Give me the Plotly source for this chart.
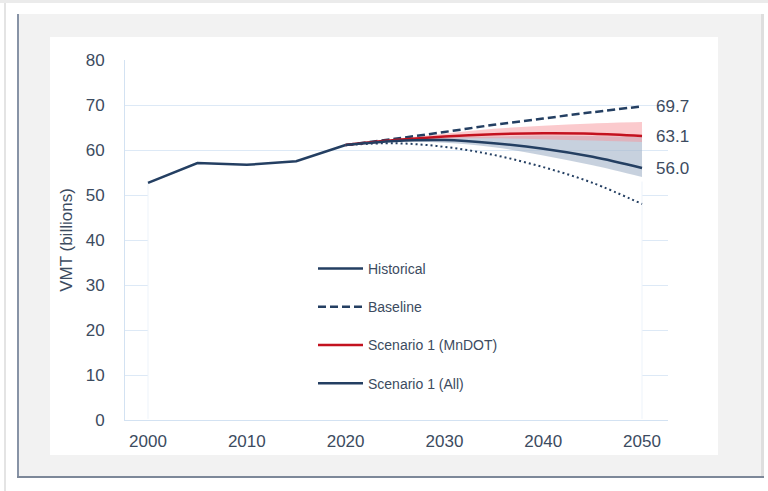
import plotly.graph_objects as go

# ---- data -------------------------------------------------------------
hist_years = [2000, 2005, 2010, 2015, 2020]
hist_vmt = [52.7, 57.1, 56.7, 57.5, 61.1]

proj_years = [2020, 2025, 2030, 2035, 2040, 2045, 2050]
baseline = [61.1, 62.5, 64.0, 65.6, 67.0, 68.4, 69.7]
low_case = [61.1, 61.5, 60.7, 58.9, 56.2, 52.7, 48.0]

mndot = [61.1, 62.2, 63.0, 63.5, 63.7, 63.6, 63.1]
mndot_hi = [61.1, 62.5, 63.6, 64.7, 65.4, 65.9, 66.2]
mndot_lo = [61.1, 62.0, 62.5, 62.6, 62.4, 62.1, 61.8]

all_s1 = [61.1, 62.0, 62.2, 61.5, 60.3, 58.5, 56.0]
all_hi = [61.1, 62.2, 62.8, 63.0, 63.2, 63.1, 62.9]
all_lo = [61.1, 61.9, 61.6, 60.6, 58.8, 56.6, 54.0]

x_ticks = [2000, 2010, 2020, 2030, 2040, 2050]
y_ticks = [0, 10, 20, 30, 40, 50, 60, 70, 80]

# ---- style ------------------------------------------------------------
NAVY = "#243f62"
RED = "#c3121f"
TEXT = "#3c4b60"
GRID = "#dde9f6"
FONT = "Liberation Sans, Arial, sans-serif"

W, H = 768, 491
L, R, T, B = 125, 100, 60, 71
PW, PH = W - L - R, H - T - B


def px(x):
    return (x - L) / PW


def py(y):
    return (H - B - y) / PH


fig = go.Figure()

# uncertainty bands
fig.add_trace(go.Scatter(x=proj_years, y=all_hi, mode="lines", line=dict(width=0, shape="spline"),
                         showlegend=False, hoverinfo="skip"))
fig.add_trace(go.Scatter(x=proj_years, y=all_lo, mode="lines", line=dict(width=0, shape="spline"),
                         fill="tonexty", fillcolor="rgba(165,180,202,0.62)", showlegend=False, hoverinfo="skip"))
fig.add_trace(go.Scatter(x=proj_years, y=mndot_hi, mode="lines", line=dict(width=0, shape="spline"),
                         showlegend=False, hoverinfo="skip"))
fig.add_trace(go.Scatter(x=proj_years, y=mndot_lo, mode="lines", line=dict(width=0, shape="spline"),
                         fill="tonexty", fillcolor="rgba(248,150,155,0.5)", showlegend=False, hoverinfo="skip"))

# low projection (dotted)
fig.add_trace(go.Scatter(x=proj_years, y=low_case, mode="lines",
                         line=dict(color=NAVY, width=2, dash="2px,3px", shape="spline"),
                         showlegend=False))

# main series
fig.add_trace(go.Scatter(x=hist_years, y=hist_vmt, mode="lines", name="Historical",
                         legendgroup="a", line=dict(color=NAVY, width=2.5)))
fig.add_trace(go.Scatter(x=proj_years, y=baseline, mode="lines", name="Baseline",
                         legendgroup="b", line=dict(color=NAVY, width=2.5, dash="8px,4px", shape="spline")))
fig.add_trace(go.Scatter(x=proj_years, y=mndot, mode="lines", name="Scenario 1 (MnDOT)",
                         legendgroup="c", line=dict(color=RED, width=2.5, shape="spline")))
fig.add_trace(go.Scatter(x=proj_years, y=all_s1, mode="lines", name="Scenario 1 (All)",
                         legendgroup="d", line=dict(color=NAVY, width=2.5, shape="spline")))

# end-of-series value labels
for series in (baseline, mndot, all_s1):
    fig.add_annotation(x=proj_years[-1], y=series[-1], text=f"{series[-1]:.1f}", showarrow=False,
                       xanchor="left", xshift=12, font=dict(family=FONT, size=17, color=TEXT))

# page frame
shapes = [
    dict(type="rect", xref="paper", yref="paper", x0=px(0), x1=px(W), y0=py(0), y1=py(3),
         fillcolor="#ebebeb", line_width=0, layer="below"),
    dict(type="rect", xref="paper", yref="paper", x0=px(17), x1=px(764), y0=py(14), y1=py(478),
         fillcolor="#f2f2f2", line_width=0, layer="below"),
    dict(type="rect", xref="paper", yref="paper", x0=px(4), x1=px(6), y0=py(3), y1=py(H),
         fillcolor="#e4e4e4", line_width=0, layer="below"),
    dict(type="rect", xref="paper", yref="paper", x0=px(761), x1=px(764), y0=py(14), y1=py(478),
         fillcolor="#dedede", line_width=0, layer="below"),
    dict(type="rect", xref="paper", yref="paper", x0=px(17), x1=px(19), y0=py(14), y1=py(478),
         fillcolor="#8793a6", line_width=0, layer="below"),
    dict(type="rect", xref="paper", yref="paper", x0=px(17), x1=px(764), y0=py(476), y1=py(478),
         fillcolor="#7d8899", line_width=0, layer="below"),
    dict(type="rect", xref="paper", yref="paper", x0=px(50), x1=px(718), y0=py(37), y1=py(455),
         fillcolor="white", line_width=0, layer="below"),
    # legend panel inside the plot
    dict(type="rect", xref="x", yref="y", x0=2000, x1=2050, y0=0.25, y1=53,
         fillcolor="white", line_width=0, layer="between"),
    dict(type="line", xref="x", yref="y", x0=2000, x1=2000, y0=0.25, y1=53,
         line=dict(color="#edf3fa", width=1), layer="between"),
    dict(type="line", xref="x", yref="y", x0=2050, x1=2050, y0=0.25, y1=53,
         line=dict(color="#edf3fa", width=1), layer="between"),
]

fig.update_layout(
    width=W, height=H,
    margin=dict(l=L, r=R, t=T, b=B),
    paper_bgcolor="white",
    plot_bgcolor="rgba(0,0,0,0)",
    font=dict(family=FONT, color=TEXT),
    shapes=shapes,
    showlegend=True,
    legend=dict(x=px(313), y=py(253), xanchor="left", yanchor="top",
                bgcolor="rgba(0,0,0,0)", font=dict(family=FONT, size=14, color=TEXT),
                traceorder="grouped", tracegroupgap=17, itemwidth=45),
    xaxis=dict(range=[1997.67, 2052.63], tickvals=x_ticks, showgrid=False, zeroline=False,
               showline=True, linecolor="#d3e2f2", linewidth=1, ticks="",
               tickfont=dict(family=FONT, size=17, color=TEXT), ticklabelstandoff=6),
    yaxis=dict(range=[0, 80], tickvals=y_ticks, showgrid=True, gridcolor=GRID, gridwidth=1,
               zeroline=False, showline=True, linecolor="#d3e2f2", linewidth=1, ticks="",
               tickfont=dict(family=FONT, size=17, color=TEXT), ticklabelstandoff=16,
               title=dict(text="VMT (billions)", font=dict(family=FONT, size=17, color=TEXT), standoff=8)),
)

fig.write_html("out.html")
